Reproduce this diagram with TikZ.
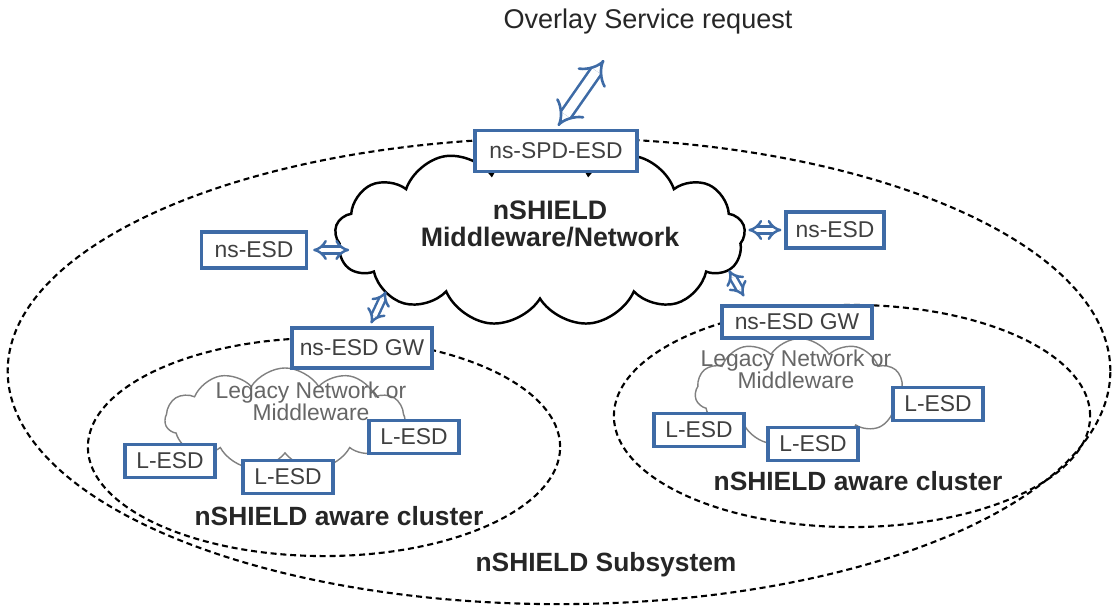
\documentclass[tikz,border=0pt]{standalone}
\usepackage{fontspec}
\setmainfont{Liberation Sans}
\usetikzlibrary{shapes.symbols,arrows.meta}

\definecolor{BoxBlue}{HTML}{3E6BA6}
\definecolor{LabelGray}{HTML}{404040}
\definecolor{CloudGray}{HTML}{808080}
\definecolor{TitleGray}{HTML}{262626}

\begin{document}
\begin{tikzpicture}[x=0.01cm, y=-0.01cm,
  esd/.style={draw=BoxBlue, line width=0.9pt, fill=white, text=LabelGray,
    font=\fontsize{6.5}{7}\selectfont, inner sep=0pt},
  title/.style={text=TitleGray, font=\bfseries\fontsize{7.5}{7.7}\selectfont, align=center},
  legacy/.style={cloud, cloud puffs=11, cloud puff arc=115, cloud ignores aspect,
    draw=CloudGray, line width=0.4pt, fill=white, inner sep=0pt},
  legacytxt/.style={text=LabelGray!80, font=\fontsize{6.5}{6.3}\selectfont, align=center},
  zone/.style={draw=black, line width=0.6pt, dash pattern=on 1.7pt off 1.1pt},
  link/.style={draw=BoxBlue, line width=0.7pt, double=white, double distance=1.2pt, {Implies}-{Implies}},
  biglink/.style={link, line width=0.75pt, double distance=2.6pt}]

 \useasboundingbox (0,0) rectangle (1113,610);

 %%%%%%%%%% Dashed zones %%%%%%%%%%
 \draw [zone] (559,371) ellipse [x radius=5.51cm, y radius=2.33cm];
 \draw [zone] (324,447) ellipse [x radius=2.36cm, y radius=1.09cm];
 \draw [zone] (852,416) ellipse [x radius=2.38cm, y radius=1.11cm];

 %%%%%%%%%% Clouds %%%%%%%%%%
 \node [cloud, cloud puffs=13, cloud puff arc=125, cloud ignores aspect, draw=black,
   line width=0.7pt, fill=white, minimum width=4.1cm, minimum height=1.8cm] (mid) at (540,236) {};
 \node [title, font=\bfseries\fontsize{7.6}{7.7}\selectfont] (mid-txt) at (550,224) {nSHIELD\\Middleware/Network};

 \node [legacy, minimum width=2.4cm, minimum height=1.02cm] (lnet) at (285,419) {};
 \node [legacytxt] (lnet-txt) at (311,401) {Legacy Network or\\Middleware};
 \node [legacy, minimum width=2.1cm, minimum height=1.07cm] (rnet) at (800,392) {};
 \node [legacytxt] (rnet-txt) at (796,369) {Legacy Network or\\Middleware};

 %%%%%%%%%% ESD boxes %%%%%%%%%%
 \node [esd, minimum width=1.62cm, minimum height=0.41cm] (spd) at (556,151) {ns-SPD-ESD};
 \node [esd, minimum width=1.05cm, minimum height=0.36cm] (nsl) at (254,250) {ns-ESD};
 \node [esd, minimum width=0.98cm, minimum height=0.36cm] (nsr) at (835,230) {ns-ESD};
 \node [esd, minimum width=1.40cm, minimum height=0.40cm] (gwl) at (362,348) {ns-ESD GW};
 \node [esd, minimum width=1.50cm, minimum height=0.32cm] (gwr) at (797,322) {ns-ESD GW};

 \foreach \n/\x/\y in {l1/170/461, l2/288/477, l3/414/437, r1/699/430, r2/813/444, r3/938/404}
 {
   \node [esd, minimum width=0.90cm, minimum height=0.33cm] (lesd-\n) at (\x,\y) {L-ESD};
 }

 %%%%%%%%%% Titles %%%%%%%%%%
 \node [title, font=\fontsize{7.7}{8}\selectfont] (req) at (648,22) {Overlay Service request};
 \node [title] (lcl-txt) at (339,516) {nSHIELD aware cluster};
 \node [title] (rcl-txt) at (858,481) {nSHIELD aware cluster};
 \node [title] (sub-txt) at (606,565) {nSHIELD Subsystem};

 %%%%%%%%%% Links %%%%%%%%%%
 \draw [biglink] ([xshift=-0.44cm, yshift=-0.13cm]req.south) -- ([xshift=0.02cm, yshift=0.03cm]spd.north);
 \draw [link] ([xshift=0.05cm]nsl.east) -- ([xshift=0.41cm]nsl.east);
 \draw [link] ([xshift=-0.03cm]nsr.west) -- ([xshift=-0.36cm]nsr.west);
 \draw [link] ([xshift=0.24cm, yshift=0.35cm]gwl.north) -- ([xshift=0.09cm, yshift=0.03cm]gwl.north);
 \draw [link] ([xshift=-0.68cm, yshift=0.34cm]gwr.north) -- ([xshift=-0.53cm, yshift=0.08cm]gwr.north);

\end{tikzpicture}
\end{document}
